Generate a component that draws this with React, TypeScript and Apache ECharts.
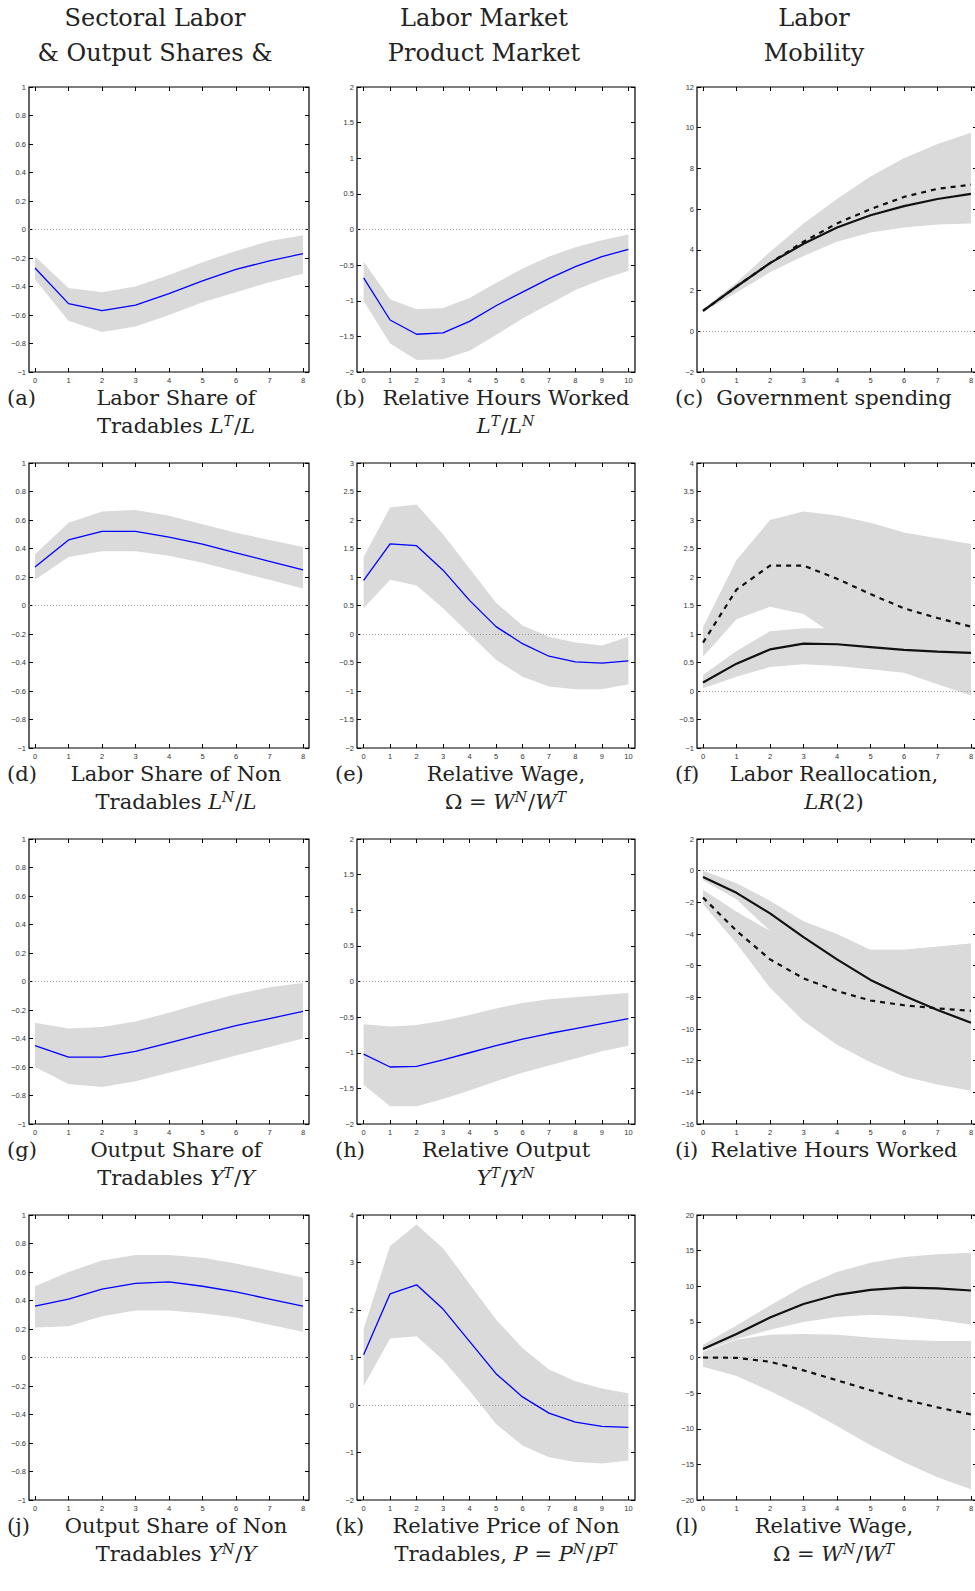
import React, { useEffect, useRef } from "react";
import * as echarts from "echarts";

const xs8 = [0, 1, 2, 3, 4, 5, 6, 7, 8];
const xs10 = [0, 1, 2, 3, 4, 5, 6, 7, 8, 9, 10];

// (a)
const aLine = [-0.27, -0.52, -0.57, -0.53, -0.45, -0.36, -0.28, -0.22, -0.17];
const aLo = [-0.35, -0.64, -0.72, -0.68, -0.6, -0.51, -0.44, -0.37, -0.31];
const aHi = [-0.19, -0.41, -0.44, -0.4, -0.32, -0.23, -0.15, -0.08, -0.04];
// (b)
const bLine = [-0.68, -1.27, -1.47, -1.45, -1.29, -1.07, -0.88, -0.69, -0.52, -0.38, -0.28];
const bLo = [-1.0, -1.6, -1.83, -1.82, -1.7, -1.48, -1.25, -1.05, -0.85, -0.7, -0.58];
const bHi = [-0.45, -0.98, -1.12, -1.1, -0.96, -0.75, -0.55, -0.38, -0.25, -0.15, -0.07];
// (c)
const cSolid = [1, 2.2, 3.35, 4.3, 5.1, 5.7, 6.15, 6.5, 6.75];
const cDash = [1, 2.2, 3.35, 4.4, 5.3, 6.0, 6.6, 7.0, 7.2];
const cLo = [0.95, 1.9, 2.9, 3.7, 4.4, 4.85, 5.1, 5.25, 5.3];
const cHi = [1.1, 2.4, 3.9, 5.3, 6.5, 7.6, 8.5, 9.2, 9.75];
// (d)
const dLine = [0.27, 0.46, 0.52, 0.52, 0.48, 0.43, 0.37, 0.31, 0.25];
const dLo = [0.18, 0.34, 0.38, 0.38, 0.35, 0.3, 0.24, 0.18, 0.12];
const dHi = [0.36, 0.58, 0.66, 0.67, 0.63, 0.57, 0.51, 0.46, 0.41];
// (e)
const eLine = [0.94, 1.58, 1.55, 1.12, 0.59, 0.13, -0.17, -0.39, -0.49, -0.51, -0.47];
const eLo = [0.45, 0.95, 0.85, 0.45, 0.0, -0.45, -0.75, -0.92, -0.97, -0.97, -0.88];
const eHi = [1.35, 2.22, 2.27, 1.75, 1.15, 0.55, 0.15, -0.05, -0.15, -0.2, -0.05];
// (f)
const fDash = [0.85, 1.78, 2.2, 2.2, 1.97, 1.7, 1.45, 1.28, 1.13];
const fDashLo = [0.6, 1.26, 1.48, 1.35, 0.95, 0.7, 0.6, 0.5, 0.4];
const fDashHi = [1.12, 2.3, 3.0, 3.15, 3.08, 2.95, 2.78, 2.68, 2.58];
const fSolid = [0.15, 0.48, 0.73, 0.83, 0.82, 0.77, 0.72, 0.69, 0.67];
const fSolidLo = [0.05, 0.25, 0.42, 0.47, 0.44, 0.38, 0.32, 0.12, -0.08];
const fSolidHi = [0.28, 0.7, 1.05, 1.1, 1.1, 1.05, 1.0, 0.95, 0.9];
// (g)
const gLine = [-0.45, -0.53, -0.53, -0.49, -0.43, -0.37, -0.31, -0.26, -0.21];
const gLo = [-0.6, -0.72, -0.74, -0.7, -0.64, -0.58, -0.52, -0.46, -0.4];
const gHi = [-0.29, -0.33, -0.32, -0.28, -0.22, -0.15, -0.09, -0.04, -0.01];
// (h)
const hLine = [-1.02, -1.2, -1.19, -1.1, -1.0, -0.9, -0.81, -0.73, -0.66, -0.59, -0.52];
const hLo = [-1.45, -1.75, -1.75, -1.65, -1.53, -1.4, -1.28, -1.18, -1.08, -0.98, -0.9];
const hHi = [-0.6, -0.63, -0.61, -0.55, -0.47, -0.38, -0.3, -0.25, -0.22, -0.19, -0.16];
// (i)
const iSolid = [-0.4, -1.4, -2.7, -4.2, -5.6, -6.9, -7.9, -8.8, -9.6];
const iSolidLo = [-0.6, -1.8, -3.8, -5.5, -7.0, -8.5, -9.8, -11, -12];
const iSolidHi = [0, -0.8, -1.9, -3.2, -4.0, -5.0, -5.0, -4.8, -4.6];
const iDash = [-1.7, -3.8, -5.6, -6.8, -7.6, -8.2, -8.5, -8.7, -8.85];
const iDashLo = [-2.1, -4.6, -7.4, -9.5, -11, -12.1, -13, -13.5, -13.9];
const iDashHi = [-1.2, -2.6, -3.8, -4.5, -4.9, -5.0, -5.0, -4.8, -4.6];
// (j)
const jLine = [0.36, 0.41, 0.48, 0.52, 0.53, 0.5, 0.46, 0.41, 0.36];
const jLo = [0.21, 0.22, 0.29, 0.33, 0.33, 0.31, 0.28, 0.23, 0.18];
const jHi = [0.5, 0.6, 0.68, 0.72, 0.72, 0.7, 0.66, 0.61, 0.56];
// (k)
const kLine = [1.06, 2.34, 2.53, 2.02, 1.34, 0.66, 0.17, -0.17, -0.36, -0.45, -0.47];
const kLo = [0.4, 1.4, 1.45, 0.95, 0.3, -0.4, -0.85, -1.1, -1.2, -1.23, -1.17];
const kHi = [1.6, 3.35, 3.8, 3.3, 2.55, 1.8, 1.2, 0.75, 0.5, 0.35, 0.25];
// (l)
const lSolid = [1.2, 3.3, 5.6, 7.5, 8.8, 9.5, 9.8, 9.7, 9.4];
const lSolidLo = [0.9, 2.6, 3.9, 5.0, 5.7, 6.0, 5.8, 5.3, 4.6];
const lSolidHi = [1.8, 4.5, 7.3, 10.0, 12.0, 13.3, 14.1, 14.5, 14.7];
const lDash = [0, -0.05, -0.6, -1.8, -3.2, -4.6, -5.9, -7.0, -8.0];
const lDashLo = [-1.3, -2.6, -4.7, -7.0, -9.6, -12.3, -14.7, -16.8, -18.5];
const lDashHi = [0.8, 2.5, 3.2, 3.3, 3.2, 2.8, 2.5, 2.3, 2.3];

const colHeaders = [
  ["Sectoral Labor", "& Output Shares &"],
  ["Labor Market", "Product Market"],
  ["Labor", "Mobility"],
];

type Band = { lo: number[]; hi: number[] };
type Ln = { v: number[]; kind: "blue" | "solid" | "dash" };
type Panel = {
  xs: number[];
  ymin: number;
  ymax: number;
  step: number;
  bands: Band[];
  lines: Ln[];
  label: string;
  cap: string[];
};

const panels: Panel[] = [
  { xs: xs8, ymin: -1, ymax: 1, step: 0.2, bands: [{ lo: aLo, hi: aHi }], lines: [{ v: aLine, kind: "blue" }], label: "(a)", cap: ["Labor Share of", "Tradables {i|L}{s|T}{n|/}{i|L}"] },
  { xs: xs10, ymin: -2, ymax: 2, step: 0.5, bands: [{ lo: bLo, hi: bHi }], lines: [{ v: bLine, kind: "blue" }], label: "(b)", cap: ["Relative Hours Worked", "{i|L}{s|T}{n|/}{i|L}{s|N}"] },
  { xs: xs8, ymin: -2, ymax: 12, step: 2, bands: [{ lo: cLo, hi: cHi }], lines: [{ v: cDash, kind: "dash" }, { v: cSolid, kind: "solid" }], label: "(c)", cap: ["Government spending"] },
  { xs: xs8, ymin: -1, ymax: 1, step: 0.2, bands: [{ lo: dLo, hi: dHi }], lines: [{ v: dLine, kind: "blue" }], label: "(d)", cap: ["Labor Share of Non", "Tradables {i|L}{s|N}{n|/}{i|L}"] },
  { xs: xs10, ymin: -2, ymax: 3, step: 0.5, bands: [{ lo: eLo, hi: eHi }], lines: [{ v: eLine, kind: "blue" }], label: "(e)", cap: ["Relative Wage,", "{n|Ω = }{i|W}{s|N}{n|/}{i|W}{s|T}"] },
  { xs: xs8, ymin: -1, ymax: 4, step: 0.5, bands: [{ lo: fDashLo, hi: fDashHi }, { lo: fSolidLo, hi: fSolidHi }], lines: [{ v: fDash, kind: "dash" }, { v: fSolid, kind: "solid" }], label: "(f)", cap: ["Labor Reallocation,", "{i|LR}{n|(2)}"] },
  { xs: xs8, ymin: -1, ymax: 1, step: 0.2, bands: [{ lo: gLo, hi: gHi }], lines: [{ v: gLine, kind: "blue" }], label: "(g)", cap: ["Output Share of", "Tradables {i|Y}{s|T}{n|/}{i|Y}"] },
  { xs: xs10, ymin: -2, ymax: 2, step: 0.5, bands: [{ lo: hLo, hi: hHi }], lines: [{ v: hLine, kind: "blue" }], label: "(h)", cap: ["Relative Output", "{i|Y}{s|T}{n|/}{i|Y}{s|N}"] },
  { xs: xs8, ymin: -16, ymax: 2, step: 2, bands: [{ lo: iSolidLo, hi: iSolidHi }, { lo: iDashLo, hi: iDashHi }], lines: [{ v: iDash, kind: "dash" }, { v: iSolid, kind: "solid" }], label: "(i)", cap: ["Relative Hours Worked"] },
  { xs: xs8, ymin: -1, ymax: 1, step: 0.2, bands: [{ lo: jLo, hi: jHi }], lines: [{ v: jLine, kind: "blue" }], label: "(j)", cap: ["Output Share of Non", "Tradables {i|Y}{s|N}{n|/}{i|Y}"] },
  { xs: xs10, ymin: -2, ymax: 4, step: 1, bands: [{ lo: kLo, hi: kHi }], lines: [{ v: kLine, kind: "blue" }], label: "(k)", cap: ["Relative Price of Non", "Tradables, {i|P}{n| = }{i|P}{s|N}{n|/}{i|P}{s|T}"] },
  { xs: xs8, ymin: -20, ymax: 20, step: 5, bands: [{ lo: lSolidLo, hi: lSolidHi }, { lo: lDashLo, hi: lDashHi }], lines: [{ v: lSolid, kind: "solid" }, { v: lDash, kind: "dash" }], label: "(l)", cap: ["Relative Wage,", "{n|Ω = }{i|W}{s|N}{n|/}{i|W}{s|T}"] },
];

const colLeft = [29, 357, 697];
const colWidth = [280, 278, 280];
const rowTop = [87, 463, 839, 1215];
const plotH = 285;
const SERIF = "'DejaVu Serif', 'Liberation Serif', serif";

export default function App() {
  const ref = useRef<HTMLDivElement>(null);
  useEffect(() => {
    const chart = echarts.init(ref.current!, null, { renderer: "svg" });
    const grid: any[] = [];
    const xAxis: any[] = [];
    const yAxis: any[] = [];
    const series: any[] = [];
    const graphic: any[] = [];
    const FS = 21;
    const rich = {
      n: { fontFamily: SERIF, fontSize: FS, color: "#222" },
      i: { fontFamily: SERIF, fontSize: FS, fontStyle: "italic", color: "#222" },
      s: { fontFamily: SERIF, fontSize: 14, fontStyle: "italic", color: "#222", verticalAlign: "top", padding: [0, 1, 10, 0] },
    };

    colHeaders.forEach((h, c) => {
      const cx = [155, 484, 814][c];
      h.forEach((t, k) => {
        graphic.push({ type: "text", x: cx, y: 18 + k * 35, style: { text: t, fontFamily: SERIF, fontSize: 24, fill: "#222", align: "center", verticalAlign: "middle" } });
      });
    });

    const capCenter = [176, 506, 834];

    panels.forEach((p, idx) => {
      const r = Math.floor(idx / 3);
      const c = idx % 3;
      const left = colLeft[c];
      const top = rowTop[r];
      const w = colWidth[c];
      grid.push({ left, top, width: w, height: plotH, show: true, borderColor: "#000", borderWidth: 1.2, backgroundColor: "#fff" });
      const nmax = p.xs[p.xs.length - 1];
      const pad = nmax === 8 ? 0.18 : 0.25;
      const xBase = {
        type: "value", gridIndex: idx, min: -pad, max: nmax + pad,
        axisLine: { show: false, onZero: false }, splitLine: { show: false },
        axisTick: { show: true, inside: true, length: 4, customValues: p.xs, lineStyle: { color: "#000" } },
      };
      xAxis.push({ ...xBase, position: "bottom", axisLabel: { show: true, customValues: p.xs, fontSize: 7.5, color: "#333", fontFamily: "'Liberation Sans', Arial", margin: 4 } });
      xAxis.push({ ...xBase, position: "top", axisLabel: { show: false } });
      const yBase = {
        type: "value", gridIndex: idx, min: p.ymin, max: p.ymax, interval: p.step,
        axisLine: { show: false, onZero: false }, splitLine: { show: false },
        axisTick: { show: true, inside: true, length: 4, lineStyle: { color: "#000" } },
      };
      yAxis.push({ ...yBase, position: "left", axisLabel: { show: true, fontSize: 7.5, color: "#333", fontFamily: "'Liberation Sans', Arial", margin: 3, formatter: (v: number) => String(Math.round(v * 10) / 10).replace("-", "−") } });
      yAxis.push({ ...yBase, position: "right", axisLabel: { show: false } });
      const xi = idx * 2;
      p.bands.forEach((b) => {
        const pts = p.xs.map((x, k) => [x, b.lo[k], b.hi[k]]);
        series.push({
          type: "custom", xAxisIndex: xi, yAxisIndex: xi, silent: true, z: 1, clip: true,
          encode: { x: 0, y: [1, 2] },
          data: pts,
          renderItem: (params: any, api: any) => {
            if (params.dataIndex !== 0) return null;
            const upper = pts.map((d) => api.coord([d[0], d[2]]));
            const lower = pts.map((d) => api.coord([d[0], d[1]])).reverse();
            return { type: "polygon", shape: { points: upper.concat(lower) }, style: { fill: "#dadada", stroke: "none" } };
          },
        });
      });
      p.lines.forEach((l, li) => {
        const ls: any = l.kind === "blue" ? { color: "#0000ff", width: 1.3 } : l.kind === "solid" ? { color: "#111", width: 2.2 } : { color: "#111", width: 2.2, type: [5, 5] };
        const s: any = { type: "line", xAxisIndex: xi, yAxisIndex: xi, symbol: "none", z: 5, lineStyle: ls, data: p.xs.map((x, k) => [x, l.v[k]]) };
        if (li === 0) s.markLine = { silent: true, symbol: "none", label: { show: false }, lineStyle: { color: "#999", type: [1, 2], width: 1 }, data: [{ yAxis: 0 }] };
        series.push(s);
      });
      graphic.push({ type: "text", x: left - 22, y: top + plotH + 26, style: { text: p.label, fontFamily: SERIF, fontSize: FS, fill: "#222", verticalAlign: "middle" } });
      p.cap.forEach((t, k) => {
        graphic.push({ type: "text", x: capCenter[c], y: top + plotH + 26 + k * 28, style: { text: t, rich, font: `${FS}px ${SERIF}`, fill: "#222", align: "center", verticalAlign: "middle" } });
      });
    });

    chart.setOption({ animation: false, backgroundColor: "#fff", grid, xAxis, yAxis, series, graphic });
    return () => chart.dispose();
  }, []);
  return (
    <div style={{ position: "absolute", left: 0, top: 0, width: 975, height: 1591, overflow: "hidden" }}>
      <div ref={ref} style={{ width: 1000, height: 1591 }} />
    </div>
  );
}
